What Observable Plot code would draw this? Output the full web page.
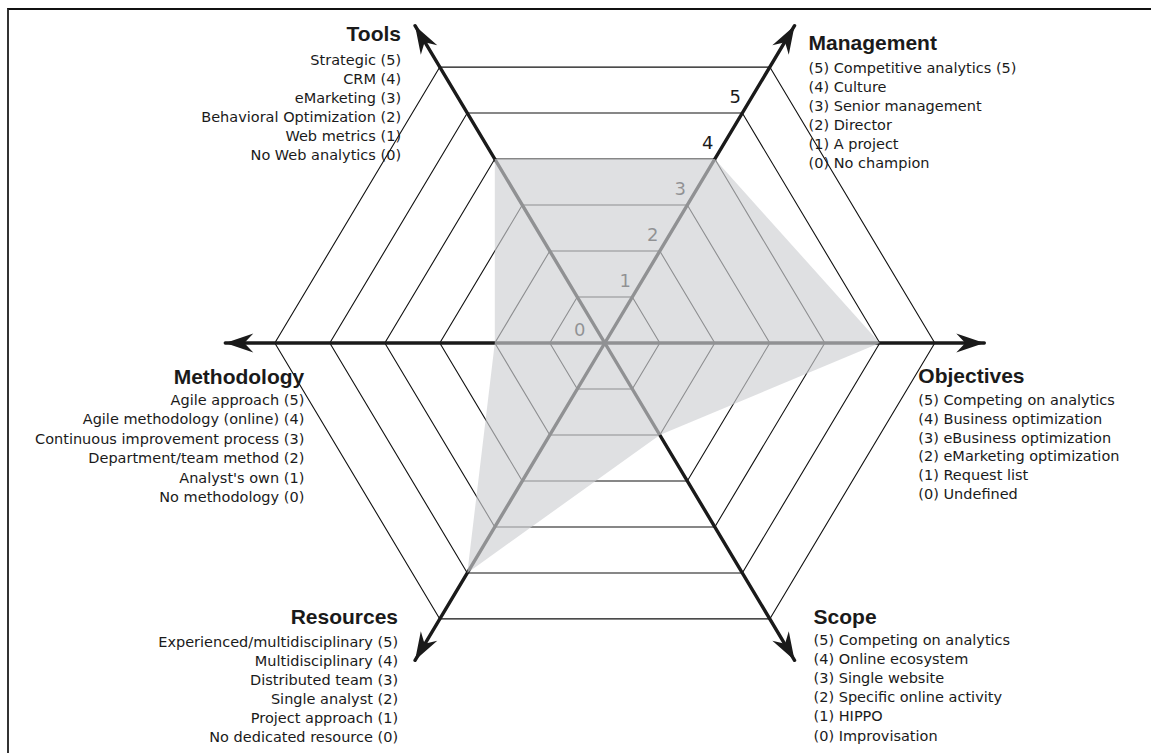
<!DOCTYPE html>
<html>
<head>
<meta charset="utf-8">
<script src="https://cdn.jsdelivr.net/npm/d3@7"></script>
<script src="https://cdn.jsdelivr.net/npm/@observablehq/plot@0.6"></script>
<style>
  html, body { margin: 0; padding: 0; background: #fff; overflow: hidden; }
  #wrap { position: relative; width: 1151px; height: 753px; }
  #frame { position: absolute; left: 7px; top: 8px; width: 1200px; height: 800px;
           border-left: 2px solid #333; border-top: 2px solid #111; box-sizing: border-box; }
  #chart { position: absolute; left: 0; top: 0; }
</style>
</head>
<body>
<div id="wrap"><div id="frame"></div><div id="chart"></div></div>
<script>
// ---------- data ----------
const axes = ["Management", "Objectives", "Scope", "Resources", "Methodology", "Tools"];
const angles = [60, 0, -60, -120, 180, 120]; // direction of each axis, degrees
const scores = [4, 5, 2, 5, 2, 4];
const gridLevels = [1, 2, 3, 4, 5, 6];
const tickLabels = ["0", "1", "2", "3", "4", "5"];
const toolsItems = ["Strategic (5)", "CRM (4)", "eMarketing (3)", "Behavioral Optimization (2)", "Web metrics (1)", "No Web analytics (0)"];
const managementItems = ["(5) Competitive analytics (5)", "(4) Culture", "(3) Senior management", "(2) Director", "(1) A project", "(0) No champion"];
const objectivesItems = ["(5) Competing on analytics", "(4) Business optimization", "(3) eBusiness optimization", "(2) eMarketing optimization", "(1) Request list", "(0) Undefined"];
const scopeItems = ["(5) Competing on analytics", "(4) Online ecosystem", "(3) Single website", "(2) Specific online activity", "(1) HIPPO", "(0) Improvisation"];
const resourcesItems = ["Experienced/multidisciplinary (5)", "Multidisciplinary (4)", "Distributed team (3)", "Single analyst (2)", "Project approach (1)", "No dedicated resource (0)"];
const methodologyItems = ["Agile approach (5)", "Agile methodology (online) (4)", "Continuous improvement process (3)", "Department/team method (2)", "Analyst's own (1)", "No methodology (0)"];
const itemsByAxis = {Management: managementItems, Objectives: objectivesItems, Scope: scopeItems, Resources: resourcesItems, Methodology: methodologyItems, Tools: toolsItems};

// ---------- layout (styles / offsets) ----------
const tipRadius = 6.9;
const textLayout = {
  Tools:       {anchor: "end",   dx: -14, tdy: 9,    idy: 26, lh: 1.31},
  Management:  {anchor: "start", dx: 14,  tdy: 18,   idy: 34, lh: 1.31},
  Objectives:  {anchor: "start", dx: -66, tdy: 33.5, idy: 49, lh: 1.29},
  Scope:       {anchor: "start", dx: 19,  tdy: -43,  idy: -29, lh: 1.32},
  Resources:   {anchor: "end",   dx: -17, tdy: -43,  idy: -27, lh: 1.31},
  Methodology: {anchor: "end",   dx: 79,  tdy: 34.5, idy: 48, lh: 1.34}
};
const FONT = "'Liberation Sans', Arial, sans-serif";
const ITEM_FONT = "'DejaVu Sans', sans-serif";

const rad = d => d * Math.PI / 180;
const polar = (r, a) => ({x: r * Math.cos(rad(a)), y: r * Math.sin(rad(a))});

// grid hexagons
const gridPts = [];
for (const L of gridLevels) for (const a of angles) gridPts.push({level: L, ...polar(L, a)});

// axis shafts
const axisPts = [];
axes.forEach((name, i) => {
  axisPts.push({axis: name, x: 0, y: 0});
  axisPts.push({axis: name, ...polar(tipRadius, angles[i])});
});
const tips = axes.map((name, i) => ({axis: name, angle: angles[i], ...polar(tipRadius, angles[i])}));

// score polygon
const scorePts = axes.map((name, i) => ({axis: name, ...polar(scores[i], angles[i])}));

// tick labels along the Management axis
const mgmtAngle = angles[axes.indexOf("Management")];
const ticks = tickLabels.map((t, k) => ({label: t, ...polar(k, mgmtAngle)}));

// arrowhead symbol pointing in direction of angle (tip at origin)
function arrowSymbol(angleDeg) {
  const c = Math.cos(rad(angleDeg)), s = -Math.sin(rad(angleDeg));
  const pts = [[0, 0], [-28, 9.5], [-19, 0], [-28, -9.5]];
  const rot = pts.map(([px, py]) => [px * c - py * s, px * s + py * c]);
  return {draw(ctx) {
    ctx.moveTo(rot[0][0], rot[0][1]);
    for (let j = 1; j < rot.length; j++) ctx.lineTo(rot[j][0], rot[j][1]);
    ctx.closePath();
  }};
}

const cx = 604.3, cy = 342.5, kx = 55, ky = 53.1, W = 1151, H = 753;

const marks = [
  Plot.line(gridPts, {x: "x", y: "y", z: "level", curve: "linear-closed", stroke: "#111", strokeWidth: 1.1}),
  Plot.line(axisPts, {x: "x", y: "y", z: "axis", stroke: "#1a1a1a", strokeWidth: 3.4}),
  ...tips.map(t => Plot.dot([t], {x: "x", y: "y", symbol: arrowSymbol(t.angle), fill: "#1a1a1a", stroke: "none", r: 5})),
  Plot.text(ticks.slice(1), {x: "x", y: "y", text: "label", dx: -7, dy: -16, fontSize: 18, fill: "#1a1a1a", fontFamily: ITEM_FONT}),
  Plot.text(ticks.slice(0, 1), {x: "x", y: "y", text: "label", dx: -25, dy: -13, fontSize: 18, fill: "#1a1a1a", fontFamily: ITEM_FONT}),
  Plot.line(scorePts, {x: "x", y: "y", curve: "linear-closed", fill: "rgb(207,208,211)", fillOpacity: 0.66, stroke: "none"})
];

for (const t of tips) {
  const L = textLayout[t.axis];
  marks.push(Plot.text([t], {x: "x", y: "y", text: () => t.axis, dx: L.dx, dy: L.tdy, textAnchor: L.anchor,
    fontSize: 21, fontWeight: "bold", fill: "#1a1a1a", fontFamily: FONT}));
  marks.push(Plot.text([t], {x: "x", y: "y", text: () => itemsByAxis[t.axis].join("\n"), dx: L.dx, dy: L.idy,
    textAnchor: L.anchor, lineAnchor: "top", lineHeight: L.lh, fontSize: 14.5, fill: "#1a1a1a", fontFamily: ITEM_FONT}));
}

const chart = Plot.plot({
  width: W, height: H,
  margin: 0,
  style: {background: "transparent", overflow: "visible"},
  x: {domain: [-cx / kx, (W - cx) / kx], range: [0, W], axis: null},
  y: {domain: [(cy - H) / ky, cy / ky], range: [H, 0], axis: null},
  marks
});
document.getElementById("chart").appendChild(chart);
</script>
</body>
</html>
